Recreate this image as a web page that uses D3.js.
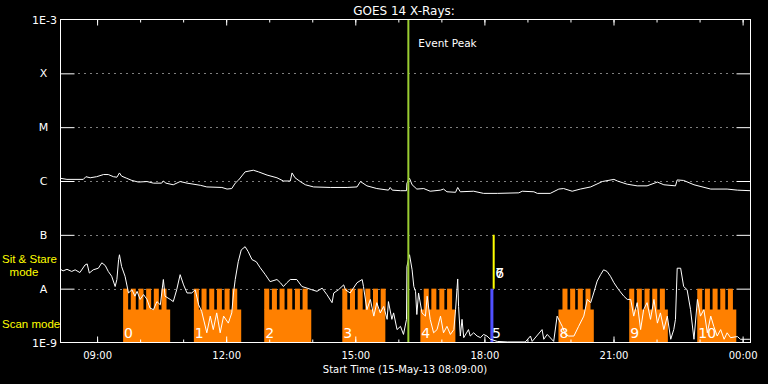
<!DOCTYPE html>
<html><head><meta charset="utf-8">
<script src="https://cdn.jsdelivr.net/npm/d3@7"></script>
<style>html,body{margin:0;padding:0;background:#000;}svg{display:block}</style>
</head><body>
<svg id="c" width="768" height="384"></svg>
<script>
// ---------------- data ----------------
const chartTitle = "GOES 14 X-Rays:";
const xAxisTitle = "Start Time (15-May-13 08:09:00)";
const timeDomain = [8.15, 24.1833];           // hours since 15-May-13 00:00
const majorHours = [9, 12, 15, 18, 21, 24];
const minorHours = [9,10,11,12,13,14,15,16,17,18,19,20,21,22,23,24];
const levelLabels = ["1E-3", "X", "M", "C", "B", "A", "1E-9"];
const levelValues = [1e-3, 1e-4, 1e-5, 1e-6, 1e-7, 1e-8, 1e-9];
const gridValues = [1e-4, 1e-5, 1e-6, 1e-7, 1e-8];
const eventPeakHour = 16.233;
const eventPeakLabel = "Event Peak";

// GOES long channel [hour, log10 flux]
const longSeries = [
 [8.15,-5.95],[8.30,-5.97],[8.68,-5.97],[8.74,-5.92],[8.84,-5.94],[8.99,-5.92],[9.15,-5.88],[9.26,-5.88],
 [9.38,-5.92],[9.46,-5.93],[9.52,-5.85],[9.57,-5.91],[9.69,-5.95],[9.81,-5.99],[9.96,-6.02],[10.16,-6.01],
 [10.31,-6.04],[10.50,-6.04],[10.54,-6.00],[10.60,-6.04],[10.77,-6.07],[10.93,-6.01],[11.09,-6.04],[11.40,-6.08],
 [11.55,-6.11],[11.90,-6.12],[12.02,-6.15],[12.13,-6.14],[12.21,-6.04],[12.29,-5.98],[12.44,-5.83],[12.63,-5.80],
 [12.75,-5.83],[12.95,-5.89],[13.18,-5.94],[13.33,-6.00],[13.49,-6.00],[13.53,-5.85],[13.60,-5.94],[13.72,-6.01],
 [13.84,-6.07],[14.03,-6.11],[14.42,-6.12],[14.81,-6.12],[15.04,-6.11],[15.12,-6.01],[15.27,-6.09],[15.50,-6.14],
 [15.77,-6.17],[15.81,-6.12],[15.86,-6.17],[16.05,-6.18],[16.19,-6.18],[16.20,-6.04],[16.26,-5.95],[16.32,-6.07],
 [16.43,-6.15],[16.59,-6.14],[16.74,-6.19],[16.98,-6.17],[17.05,-6.15],[17.13,-6.20],[17.33,-6.21],[17.38,-6.12],
 [17.44,-6.20],[17.75,-6.19],[17.98,-6.23],[18.30,-6.23],[18.80,-6.22],[18.88,-6.19],[19.15,-6.20],[19.23,-6.23],
 [19.53,-6.23],[19.73,-6.15],[19.84,-6.14],[20.04,-6.19],[20.23,-6.15],[20.47,-6.11],[20.74,-6.01],[21.01,-5.97],
 [21.09,-6.00],[21.32,-6.06],[21.55,-6.09],[21.78,-6.09],[22.02,-6.02],[22.17,-6.07],[22.44,-6.09],[22.48,-5.98],
 [22.63,-5.99],[22.87,-6.07],[23.26,-6.15],[23.64,-6.15],[23.88,-6.17],[24.18,-6.18]
];

// GOES short channel [hour, log10 flux]
const shortSeries = [
 [8.15,-7.64],[8.21,-7.67],[8.30,-7.64],[8.41,-7.68],[8.49,-7.65],[8.60,-7.70],[8.72,-7.56],[8.77,-7.54],
 [8.82,-7.71],[8.91,-7.65],[9.03,-7.62],[9.11,-7.52],[9.19,-7.57],[9.26,-7.68],[9.34,-7.77],[9.42,-7.96],
 [9.46,-7.83],[9.50,-7.46],[9.52,-7.37],[9.57,-7.59],[9.65,-7.77],[9.73,-8.08],[9.81,-8.02],[9.88,-8.14],
 [9.93,-8.05],[10.00,-8.20],[10.08,-8.11],[10.16,-8.20],[10.23,-8.36],[10.31,-8.39],[10.39,-8.24],[10.47,-8.30],
 [10.54,-7.83],[10.58,-8.14],[10.70,-8.20],[10.77,-8.24],[10.85,-8.02],[10.93,-7.74],[11.01,-7.93],[11.09,-8.08],
 [11.20,-8.08],[11.28,-8.02],[11.36,-8.30],[11.43,-8.42],[11.55,-8.82],[11.63,-8.51],[11.70,-8.76],[11.78,-8.45],
 [11.86,-8.82],[11.94,-8.51],[12.05,-8.64],[12.13,-8.45],[12.17,-8.08],[12.21,-7.83],[12.28,-7.50],[12.35,-7.28],
 [12.44,-7.22],[12.51,-7.31],[12.60,-7.46],[12.70,-7.50],[12.79,-7.61],[12.91,-7.74],[13.02,-7.87],[13.18,-7.83],
 [13.26,-7.89],[13.33,-7.96],[13.41,-7.89],[13.49,-7.83],[13.64,-7.83],[13.76,-7.96],[13.88,-7.99],[13.99,-8.02],
 [14.11,-8.05],[14.23,-7.99],[14.34,-8.11],[14.46,-8.26],[14.50,-8.08],[14.61,-8.02],[14.73,-7.93],[14.77,-8.02],
 [14.88,-8.08],[15.04,-7.89],[15.16,-7.83],[15.19,-7.96],[15.27,-8.39],[15.35,-8.20],[15.43,-8.51],[15.50,-8.26],
 [15.58,-8.45],[15.66,-8.33],[15.74,-8.57],[15.77,-8.24],[15.85,-8.57],[15.89,-8.45],[15.97,-8.76],[16.05,-8.70],
 [16.12,-8.85],[16.19,-8.57],[16.20,-7.59],[16.26,-7.37],[16.32,-7.65],[16.36,-7.96],[16.40,-8.05],[16.43,-8.48],
 [16.47,-8.08],[16.55,-8.45],[16.63,-8.51],[16.67,-8.14],[16.74,-8.57],[16.82,-8.82],[16.90,-8.76],[16.98,-8.51],
 [17.05,-8.82],[17.13,-8.70],[17.21,-8.85],[17.29,-8.76],[17.33,-8.39],[17.38,-7.82],[17.40,-8.33],[17.44,-8.88],
 [17.48,-8.57],[17.52,-8.91],[17.63,-8.76],[17.67,-8.88],[17.75,-8.82],[17.83,-8.88],[17.91,-8.91],[17.98,-8.85],
 [18.06,-8.88],[18.14,-8.94],[18.30,-8.98],[18.53,-8.99],[18.95,-8.99],[19.07,-8.88],[19.11,-8.98],[19.34,-8.76],
 [19.38,-8.94],[19.46,-8.85],[19.61,-8.98],[19.69,-8.51],[19.77,-8.64],[19.81,-8.70],[19.88,-8.85],[19.96,-8.88],
 [20.08,-8.88],[20.19,-8.70],[20.31,-8.51],[20.39,-8.20],[20.47,-8.26],[20.54,-8.08],[20.62,-7.86],[20.70,-7.74],
 [20.77,-7.65],[20.85,-7.68],[20.93,-7.77],[21.01,-7.89],[21.12,-8.02],[21.24,-8.14],[21.32,-8.20],[21.40,-8.20],
 [21.47,-8.51],[21.55,-8.26],[21.63,-8.76],[21.70,-8.39],[21.78,-8.26],[21.86,-8.57],[21.94,-8.20],[22.02,-8.64],
 [22.09,-8.45],[22.17,-8.76],[22.25,-8.51],[22.33,-8.94],[22.40,-8.76],[22.44,-8.57],[22.48,-7.62],[22.56,-7.62],
 [22.63,-7.96],[22.71,-8.02],[22.79,-8.39],[22.87,-8.94],[22.95,-8.20],[23.02,-8.51],[23.10,-8.39],[23.18,-8.82],
 [23.26,-8.51],[23.33,-8.70],[23.41,-8.88],[23.49,-8.76],[23.57,-8.94],[23.64,-8.82],[23.72,-8.91],[23.88,-8.89],
 [23.95,-8.94],[24.17,-8.94]
];

// IRIS scan-mode rasters
const scanIds = ["0", "1", "2", "3", "4", "8", "9", "10"];
const scanStart = [9.605, 11.249, 12.884, 14.698, 16.512, 19.721, 21.365, 22.946];
const scanEnd   = [10.698, 12.349, 13.977, 15.698, 17.326, 20.542, 22.263, 23.853];
const scanTeeth = [
 [9.605, 9.783, 9.962, 10.140, 10.318, 10.497],
 [11.249, 11.427, 11.606, 11.784, 11.962, 12.140],
 [12.884, 13.062, 13.240, 13.419, 13.597, 13.775],
 [14.698, 14.876, 15.055, 15.233, 15.411, 15.590],
 [16.590, 16.767, 16.953, 17.133],
 [19.814, 19.993, 20.170, 20.349],
 [21.365, 21.542, 21.721, 21.900, 22.077],
 [22.946, 23.123, 23.302, 23.481, 23.658]
];
const toothMinutes = 7;
const scanLowFlux = 1e-9, scanMidFlux = 4.1e-9, scanTopFlux = 1e-8;

// other observations
const scanOnlyLabel = "5", scanOnlyHour = 18.174;          // blue
const sitStareLabels = ["6", "7"], sitStareHour = 18.216;  // yellow
const sitStareLow = 1e-8, sitStareHigh = 1e-7;
const modeLabels = ["Sit & Stare", "mode", "Scan mode"];

// ---------------- drawing ----------------
const svg = d3.select("#c");
svg.append("rect").attr("width", 768).attr("height", 384).attr("fill", "#000");
const L = 60.5, R = 750.5, T = 19.5, B = 342.5;
const x = d3.scaleLinear().domain(timeDomain).range([L, R]);
const y = d3.scaleLog().domain([1e-9, 1e-3]).range([B, T]);
const FONT = "DejaVu Sans, sans-serif";

svg.append("defs").append("clipPath").attr("id", "clip")
  .append("rect").attr("x", L).attr("y", T).attr("width", R - L).attr("height", B - T);

// dotted grid
svg.append("g").selectAll("line").data(gridValues).join("line")
  .attr("x1", L + 18).attr("x2", R - 14)
  .attr("y1", d => Math.round(y(d)) + 0.5).attr("y2", d => Math.round(y(d)) + 0.5)
  .attr("stroke", "#fff").attr("stroke-width", 1).attr("stroke-dasharray", "1 5");

// scan blocks
const plot = svg.append("g").attr("clip-path", "url(#clip)");
const blocks = plot.append("g");
scanIds.forEach((id, i) => {
  blocks.append("rect")
    .attr("x", x(scanStart[i])).attr("width", x(scanEnd[i]) - x(scanStart[i]))
    .attr("y", y(scanMidFlux)).attr("height", y(scanLowFlux) - y(scanMidFlux))
    .attr("fill", "#ff8000");
  blocks.selectAll(null).data(scanTeeth[i]).join("rect")
    .attr("x", d => x(d)).attr("width", d => x(d + toothMinutes / 60) - x(d))
    .attr("y", y(scanTopFlux)).attr("height", y(scanMidFlux) - y(scanTopFlux) + 0.5)
    .attr("fill", "#ff8000");
});

// blue & yellow observation lines
plot.append("line").attr("x1", x(scanOnlyHour)).attr("x2", x(scanOnlyHour))
  .attr("y1", y(scanTopFlux)).attr("y2", y(scanLowFlux))
  .attr("stroke", "#5050ff").attr("stroke-width", 3);
plot.append("line").attr("x1", x(sitStareHour)).attr("x2", x(sitStareHour))
  .attr("y1", y(sitStareHigh)).attr("y2", y(sitStareLow))
  .attr("stroke", "#ffff00").attr("stroke-width", 2);

// curves
const line = d3.line().x(d => x(d[0])).y(d => y(Math.pow(10, d[1])));
plot.append("path").datum(longSeries).attr("d", line)
  .attr("fill", "none").attr("stroke", "#fff").attr("stroke-width", 1);
plot.append("path").datum(shortSeries).attr("d", line)
  .attr("fill", "none").attr("stroke", "#fff").attr("stroke-width", 1);

// event peak
plot.append("line").attr("x1", x(eventPeakHour)).attr("x2", x(eventPeakHour))
  .attr("y1", T).attr("y2", B).attr("stroke", "#9acd32").attr("stroke-width", 2);
svg.append("text").attr("x", x(eventPeakHour) + 10).attr("y", 47)
  .attr("fill", "#fff").attr("font-family", FONT).attr("font-size", 10.5).text(eventPeakLabel);

// block labels
const lab = svg.append("g").attr("fill", "#fff").attr("font-family", FONT).attr("font-size", 14);
scanIds.forEach((id, i) => {
  lab.append("text").attr("x", x(scanStart[i]) + 1).attr("y", 338).text(id);
});
lab.append("text").attr("x", x(scanOnlyHour)).attr("y", 338).text(scanOnlyLabel);
sitStareLabels.forEach(t => lab.append("text").attr("x", x(sitStareHour) + 1.5).attr("y", 278).text(t));

// axes box
const axStyle = g => { g.select(".domain").remove(); g.selectAll("line").attr("stroke", "#fff"); };
svg.append("rect").attr("x", L).attr("y", T).attr("width", R - L).attr("height", B - T)
  .attr("fill", "none").attr("stroke", "#fff").attr("stroke-width", 1);

// x axes: bottom (ticks up, labels) and top (ticks down)
const fmt = h => String(h % 24).padStart(2, "0") + ":00";
svg.append("g").attr("transform", `translate(0,${B})`)
  .call(d3.axisBottom(x).tickValues(minorHours).tickSize(-3).tickFormat(""))
  .call(axStyle);
svg.append("g").attr("transform", `translate(0,${B})`)
  .call(d3.axisBottom(x).tickValues(majorHours).tickSize(-6).tickPadding(9).tickFormat(fmt))
  .call(axStyle)
  .call(g => g.selectAll("text").attr("fill", "#fff").attr("font-family", FONT).attr("font-size", 10));
svg.append("g").attr("transform", `translate(0,${T})`)
  .call(d3.axisTop(x).tickValues(minorHours).tickSize(-3).tickFormat(""))
  .call(axStyle);
svg.append("g").attr("transform", `translate(0,${T})`)
  .call(d3.axisTop(x).tickValues(majorHours).tickSize(-6).tickFormat(""))
  .call(axStyle);

// y axes: solid inward ticks on both sides
svg.append("g").attr("transform", `translate(${L},0)`)
  .call(d3.axisLeft(y).tickValues(gridValues).tickSize(-14).tickFormat(""))
  .call(axStyle);
svg.append("g").attr("transform", `translate(${R},0)`)
  .call(d3.axisRight(y).tickValues(gridValues).tickSize(-14).tickFormat(""))
  .call(axStyle);

// y labels
svg.append("g").selectAll("text").data(levelLabels).join("text")
  .attr("x", d => d.length > 1 ? 57 : 43.5)
  .attr("y", (d, i) => y(levelValues[i]) + 4)
  .attr("text-anchor", d => d.length > 1 ? "end" : "middle")
  .attr("fill", "#fff").attr("font-family", FONT).attr("font-size", 11).text(d => d);

// mode labels (yellow)
const ml = svg.append("g").attr("fill", "#ffff00").attr("font-family", "Liberation Sans, sans-serif").attr("font-size", 11.5);
ml.append("text").attr("x", 2).attr("y", 263).text(modeLabels[0]);
ml.append("text").attr("x", 24).attr("y", 275.5).attr("text-anchor", "middle").text(modeLabels[1]);
ml.append("text").attr("x", 2).attr("y", 328).text(modeLabels[2]);

// titles
svg.append("text").attr("x", 404).attr("y", 15).attr("text-anchor", "middle")
  .attr("fill", "#fff").attr("font-family", FONT).attr("font-size", 12).text(chartTitle);
svg.append("text").attr("x", 405).attr("y", 373).attr("text-anchor", "middle")
  .attr("fill", "#fff").attr("font-family", FONT).attr("font-size", 10).text(xAxisTitle);
</script>
</body></html>
